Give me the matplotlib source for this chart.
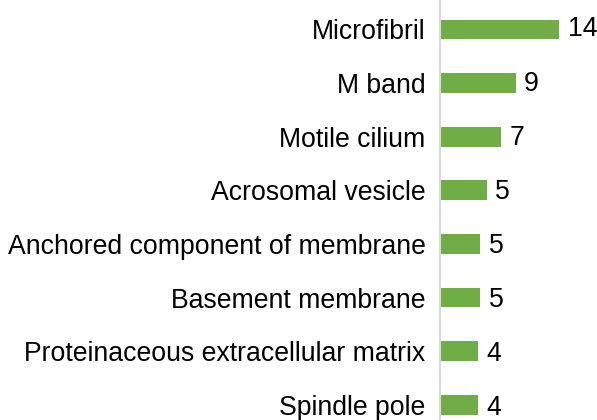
import matplotlib
matplotlib.use("Agg")
import matplotlib.pyplot as plt

# ---- data ------------------------------------------------------------------
terms = ["Microfibril", "M band", "Motile cilium", "Acrosomal vesicle",
         "Anchored component of membrane", "Basement membrane",
         "Proteinaceous extracellular matrix", "Spindle pole"]
counts = [14, 9, 7, 5, 5, 5, 4, 4]
# bar lengths as drawn (count-equivalent units; slightly differ from labels)
bar_len = [14.0, 8.9, 7.2, 5.5, 4.75, 4.75, 4.5, 4.5]

GREEN = "#70AD47"
AXIS_GREY = "#D9D9D9"

plt.rcParams["font.family"] = ["Liberation Sans", "DejaVu Sans"]

fig = plt.figure(figsize=(5.97, 4.2), dpi=100)
x0 = 439.5 / 597
ax = fig.add_axes([x0, 0, 1 - x0, 1])

y = list(range(len(terms)))
ax.barh(y, bar_len, height=0.37, color=GREEN)
# value labels sit a touch lower the further down the list (as in the original)
for yi, v, c in zip(y, bar_len, counts):
    ax.annotate(f"{c}", (v, yi), xytext=(6, -0.3 * yi), textcoords="offset points",
                ha="left", va="center", fontsize=19.2, color="black")

ax.set_yticks(y)
ax.set_yticklabels(terms, fontsize=19.2)
ax.set_ylim(7.285, -0.55)
ax.set_xlim(0, 18.38)
ax.set_xticks([])
ax.tick_params(axis="y", length=0, pad=10)
for s in ["top", "right", "bottom"]:
    ax.spines[s].set_visible(False)
ax.spines["left"].set_color(AXIS_GREY)
ax.spines["left"].set_linewidth(1.5)

fig.savefig("out.png", dpi=100)
